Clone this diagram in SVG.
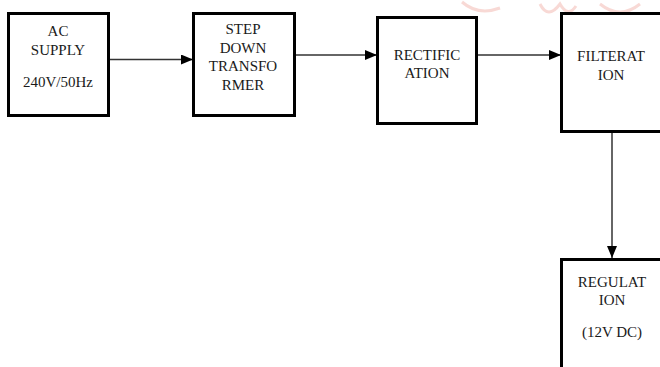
<svg xmlns="http://www.w3.org/2000/svg" width="660" height="367" viewBox="0 0 660 367">
<style>
.box{fill:#fff;stroke:#000;stroke-width:3}
.t{font-family:"Liberation Serif","Times New Roman",serif;font-size:15px;fill:#1a1a1a;text-anchor:middle}
.c{stroke:#333;stroke-width:1.5;fill:none}
.wm{fill:none;stroke:#f6cfcb;stroke-width:3;opacity:0.8}
</style>
<defs>
<marker id="ah" markerWidth="12" markerHeight="10" refX="12" refY="5" orient="auto" markerUnits="userSpaceOnUse">
<path d="M0,0 L12,5 L0,10 Z" fill="#000"/>
</marker>
</defs>
<rect width="660" height="367" fill="#fff"/>
<g id="watermark">
<path class="wm" d="M462,2 Q478,16 500,8"/>
<path class="wm" d="M540,4 Q548,20 560,4 Q568,18 576,6"/>
<path class="wm" d="M600,4 Q620,20 640,4"/>
</g>
<g id="connectors">
<line class="c" x1="108" y1="59.5" x2="193" y2="59.5" marker-end="url(#ah)"/>
<line class="c" x1="295" y1="55" x2="377" y2="55" marker-end="url(#ah)"/>
<line class="c" x1="478" y1="55" x2="561" y2="55" marker-end="url(#ah)"/>
<line class="c" x1="612" y1="132" x2="612" y2="258" marker-end="url(#ah)"/>
</g>
<g id="ac">
<rect class="box" x="8.5" y="13.5" width="100" height="102"/>
<text class="t" x="58" y="36">AC</text>
<text class="t" x="58" y="55">SUPPLY</text>
<text class="t" x="58" y="87">240V/50Hz</text>
</g>
<g id="transformer">
<rect class="box" x="193.5" y="13.5" width="101" height="102"/>
<text class="t" x="243" y="34">STEP</text>
<text class="t" x="243" y="53">DOWN</text>
<text class="t" x="243" y="71">TRANSFO</text>
<text class="t" x="243" y="90">RMER</text>
</g>
<g id="rectification">
<rect class="box" x="377.5" y="17.5" width="99" height="106"/>
<text class="t" x="427" y="60">RECTIFIC</text>
<text class="t" x="427" y="78">ATION</text>
</g>
<g id="filteration">
<rect class="box" x="561.5" y="13.5" width="110" height="118"/>
<text class="t" x="611" y="61">FILTERAT</text>
<text class="t" x="611" y="80">ION</text>
</g>
<g id="regulation">
<rect class="box" x="561.5" y="259.5" width="110" height="120"/>
<text class="t" x="612" y="287">REGULAT</text>
<text class="t" x="612" y="305">ION</text>
<text class="t" x="612" y="337">(12V DC)</text>
</g>
</svg>
